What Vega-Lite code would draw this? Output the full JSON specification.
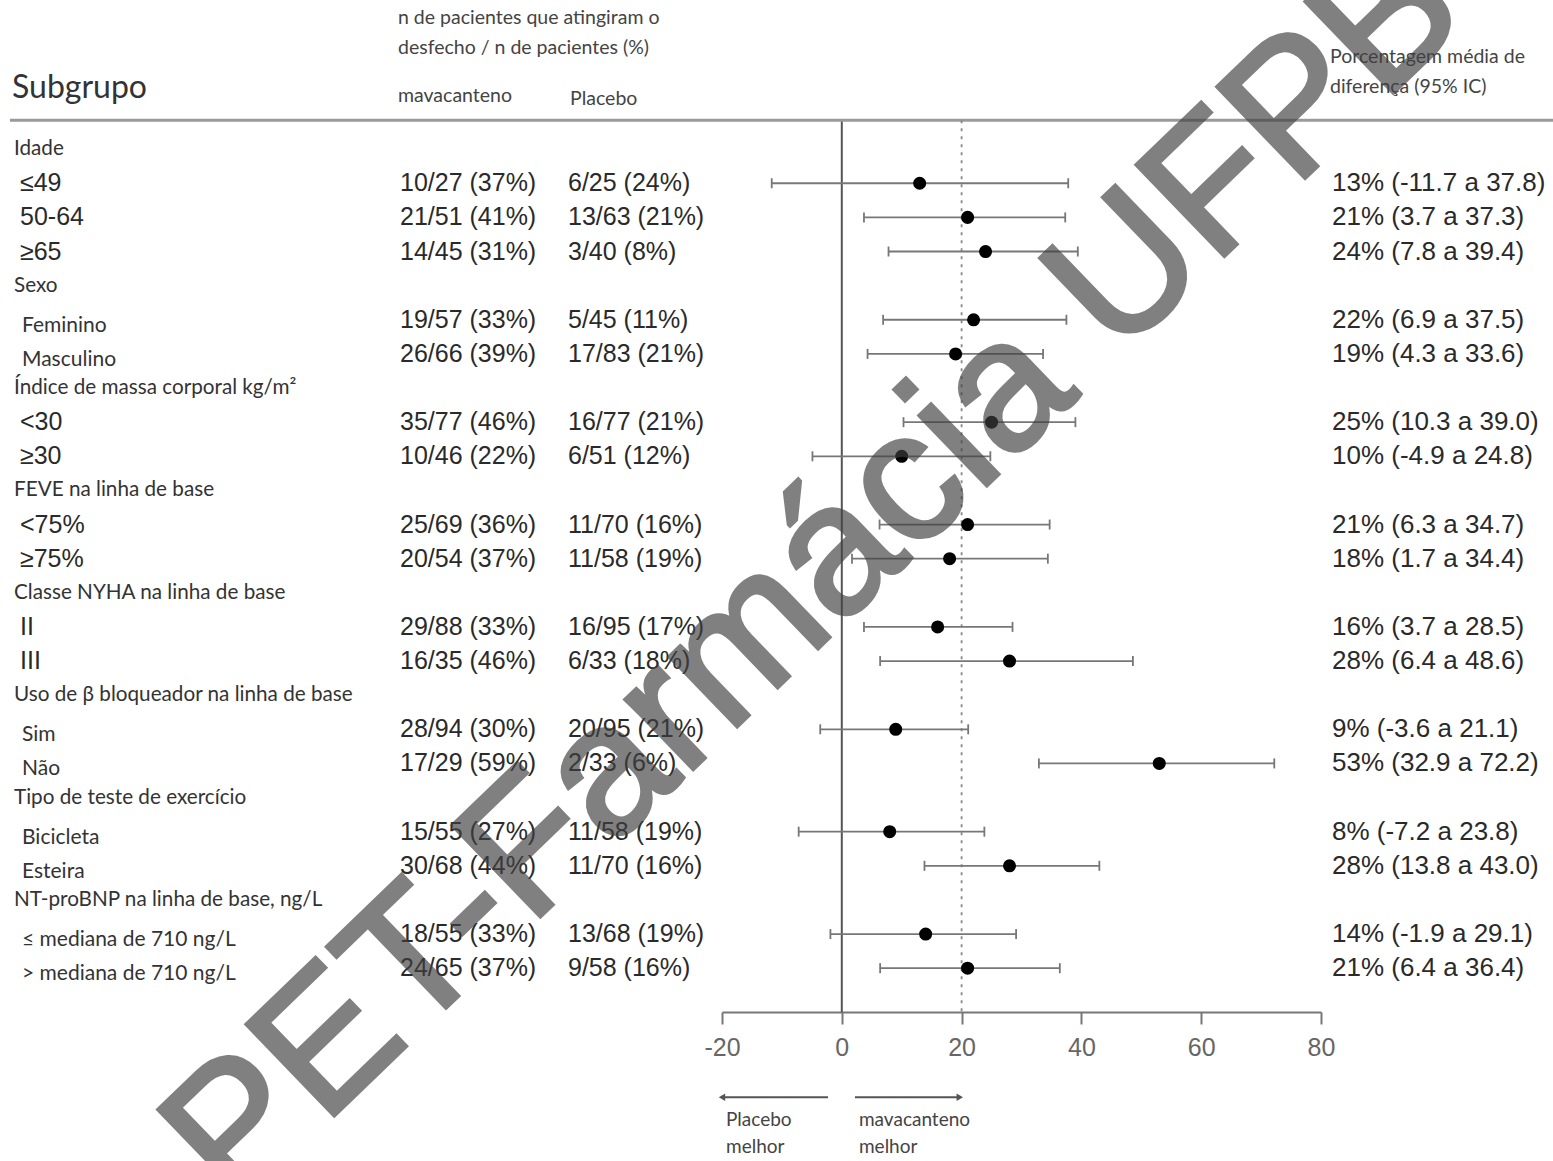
{
  "$schema": "https://vega.github.io/schema/vega-lite/v6.json",
  "padding": 0,
  "spacing": -1161,
  "bounds": "flush",
  "background": "white",
  "config": {"view": {"stroke": null}},
  "datasets": {
    "rows": [
      {"row": 0, "kind": "grupo", "label": "Idade"},
      {"row": 1, "kind": "sub", "label": "≤49", "mav": "10/27 (37%)", "pla": "6/25 (24%)", "est": 13, "lo": -11.7, "hi": 37.8, "ci": "13% (-11.7 a  37.8)"},
      {"row": 2, "kind": "sub", "label": "50-64", "mav": "21/51 (41%)", "pla": "13/63 (21%)", "est": 21, "lo": 3.7, "hi": 37.3, "ci": "21% (3.7 a 37.3)"},
      {"row": 3, "kind": "sub", "label": "≥65", "mav": "14/45 (31%)", "pla": "3/40 (8%)", "est": 24, "lo": 7.8, "hi": 39.4, "ci": "24% (7.8 a 39.4)"},
      {"row": 4, "kind": "grupo", "label": "Sexo"},
      {"row": 5, "kind": "subp", "label": "Feminino", "mav": "19/57 (33%)", "pla": "5/45 (11%)", "est": 22, "lo": 6.9, "hi": 37.5, "ci": "22% (6.9 a  37.5)"},
      {"row": 6, "kind": "subp", "label": "Masculino", "mav": "26/66 (39%)", "pla": "17/83 (21%)", "est": 19, "lo": 4.3, "hi": 33.6, "ci": "19% (4.3 a 33.6)"},
      {"row": 7, "kind": "grupo", "label": "Índice de massa corporal kg/m²"},
      {"row": 8, "kind": "sub", "label": "<30", "mav": "35/77 (46%)", "pla": "16/77 (21%)", "est": 25, "lo": 10.3, "hi": 39.0, "ci": "25% (10.3 a 39.0)"},
      {"row": 9, "kind": "sub", "label": "≥30", "mav": "10/46 (22%)", "pla": "6/51 (12%)", "est": 10, "lo": -4.9, "hi": 24.8, "ci": "10% (-4.9 a 24.8)"},
      {"row": 10, "kind": "grupo", "label": "FEVE na linha de base"},
      {"row": 11, "kind": "sub", "label": "<75%", "mav": "25/69 (36%)", "pla": "11/70 (16%)", "est": 21, "lo": 6.3, "hi": 34.7, "ci": "21% (6.3 a 34.7)"},
      {"row": 12, "kind": "sub", "label": "≥75%", "mav": "20/54 (37%)", "pla": "11/58 (19%)", "est": 18, "lo": 1.7, "hi": 34.4, "ci": "18% (1.7 a 34.4)"},
      {"row": 13, "kind": "grupo", "label": "Classe NYHA na linha de base"},
      {"row": 14, "kind": "sub", "label": "II", "mav": "29/88 (33%)", "pla": "16/95 (17%)", "est": 16, "lo": 3.7, "hi": 28.5, "ci": "16% (3.7 a 28.5)"},
      {"row": 15, "kind": "sub", "label": "III", "mav": "16/35 (46%)", "pla": "6/33 (18%)", "est": 28, "lo": 6.4, "hi": 48.6, "ci": "28% (6.4 a 48.6)"},
      {"row": 16, "kind": "grupo", "label": "Uso de β bloqueador na linha de base"},
      {"row": 17, "kind": "subp", "label": "Sim", "mav": "28/94 (30%)", "pla": "20/95 (21%)", "est": 9, "lo": -3.6, "hi": 21.1, "ci": "9% (-3.6 a 21.1)"},
      {"row": 18, "kind": "subp", "label": "Não", "mav": "17/29 (59%)", "pla": "2/33 (6%)", "est": 53, "lo": 32.9, "hi": 72.2, "ci": "53% (32.9 a 72.2)"},
      {"row": 19, "kind": "grupo", "label": "Tipo de teste de exercício"},
      {"row": 20, "kind": "subp", "label": "Bicicleta", "mav": "15/55 (27%)", "pla": "11/58 (19%)", "est": 8, "lo": -7.2, "hi": 23.8, "ci": "8% (-7.2 a 23.8)"},
      {"row": 21, "kind": "subp", "label": "Esteira", "mav": "30/68 (44%)", "pla": "11/70 (16%)", "est": 28, "lo": 13.8, "hi": 43.0, "ci": "28% (13.8 a 43.0)"},
      {"row": 22, "kind": "grupo", "label": "NT-proBNP na linha de base, ng/L"},
      {"row": 23, "kind": "subp", "label": "≤ mediana de 710 ng/L", "mav": "18/55 (33%)", "pla": "13/68 (19%)", "est": 14, "lo": -1.9, "hi": 29.1, "ci": "14% (-1.9 a 29.1)"},
      {"row": 24, "kind": "subp", "label": "> mediana de 710 ng/L", "mav": "24/65 (37%)", "pla": "9/58 (16%)", "est": 21, "lo": 6.4, "hi": 36.4, "ci": "21% (6.4 a 36.4)"}
    ],
    "arrows": [
      {"lado": "Placebo melhor", "texto": "Placebo\nmelhor", "esq": -20, "dir": -2.3, "ponta": -20},
      {"lado": "mavacanteno melhor", "texto": "mavacanteno\nmelhor", "esq": 2.2, "dir": 19.7, "ponta": 19.7}
    ],
    "one": [{"wm": "PET-Farmácia UFPB"}]
  },
  "vconcat": [
    {
      "spacing": 0,
      "bounds": "flush",
      "hconcat": [
        {
          "width": 398,
          "height": 1161,
          "layer": [
            {"data": {"name": "one"}, "mark": {"type": "rule", "color": "#9a9a9a", "strokeWidth": 3},
             "encoding": {"x": {"datum": 0.025, "type": "quantitative", "scale": {"domain": [0, 1]}, "axis": null}, "x2": {"datum": 1},
                          "y": {"datum": -0.85, "type": "quantitative", "scale": {"domain": [-4.37, 29.65], "reverse": true, "nice": false, "zero": false}, "axis": null}}},
            {"data": {"name": "one"}, "mark": {"type": "text", "text": "Subgrupo", "align": "left", "baseline": "middle", "dx": 12, "font": "Lato", "fontSize": 32, "color": "#333"},
             "encoding": {"x": {"datum": 0, "type": "quantitative"}, "y": {"datum": -1.79, "type": "quantitative"}}},
            {"data": {"name": "rows"}, "transform": [{"filter": "datum.kind == 'grupo'"}], "mark": {"type": "text", "align": "left", "baseline": "middle", "dx": 14, "font": "Lato", "fontSize": 20.7, "color": "#333"},
             "encoding": {"x": {"datum": 0, "type": "quantitative"}, "y": {"field": "row", "type": "quantitative"}, "text": {"field": "label"}}},
            {"data": {"name": "rows"}, "transform": [{"filter": "datum.kind == 'sub'"}], "mark": {"type": "text", "align": "left", "baseline": "middle", "dx": 20, "font": "Liberation Sans", "fontSize": 25, "color": "#2a2a2a"},
             "encoding": {"x": {"datum": 0, "type": "quantitative"}, "y": {"field": "row", "type": "quantitative"}, "text": {"field": "label"}}},
            {"data": {"name": "rows"}, "transform": [{"filter": "datum.kind == 'subp'"}], "mark": {"type": "text", "align": "left", "baseline": "middle", "dx": 22, "dy": 6, "font": "Lato", "fontSize": 21, "color": "#333"},
             "encoding": {"x": {"datum": 0, "type": "quantitative"}, "y": {"field": "row", "type": "quantitative"}, "text": {"field": "label"}}}
          ]
        },
        {
          "width": 168,
          "height": 1161,
          "layer": [
            {"data": {"name": "one"}, "mark": {"type": "rule", "color": "#9a9a9a", "strokeWidth": 3},
             "encoding": {"x": {"datum": 0, "type": "quantitative", "scale": {"domain": [0, 1]}, "axis": null}, "x2": {"datum": 1},
                          "y": {"datum": -0.85, "type": "quantitative", "scale": {"domain": [-4.37, 29.65], "reverse": true, "nice": false, "zero": false}, "axis": null}}},
            {"data": {"name": "one"}, "mark": {"type": "text", "text": ["n de pacientes que atingiram o", "desfecho / n de pacientes (%)"], "lineHeight": 30, "align": "left", "baseline": "middle", "dx": 0, "font": "Lato", "fontSize": 19.5, "color": "#444"},
             "encoding": {"x": {"datum": 0, "type": "quantitative"}, "y": {"datum": -3.84, "type": "quantitative"}}},
            {"data": {"name": "one"}, "mark": {"type": "text", "text": "mavacanteno", "align": "left", "baseline": "middle", "dx": 0, "font": "Lato", "fontSize": 19.5, "color": "#444"},
             "encoding": {"x": {"datum": 0, "type": "quantitative"}, "y": {"datum": -1.55, "type": "quantitative"}}},
            {"data": {"name": "rows"}, "transform": [{"filter": "isValid(datum.mav)"}], "mark": {"type": "text", "align": "left", "baseline": "middle", "dx": 2, "font": "Liberation Sans", "fontSize": 25, "color": "#2a2a2a"},
             "encoding": {"x": {"datum": 0, "type": "quantitative"}, "y": {"field": "row", "type": "quantitative"}, "text": {"field": "mav"}}}
          ]
        },
        {
          "width": 156,
          "height": 1161,
          "layer": [
            {"data": {"name": "one"}, "mark": {"type": "rule", "color": "#9a9a9a", "strokeWidth": 3},
             "encoding": {"x": {"datum": 0, "type": "quantitative", "scale": {"domain": [0, 1]}, "axis": null}, "x2": {"datum": 1},
                          "y": {"datum": -0.85, "type": "quantitative", "scale": {"domain": [-4.37, 29.65], "reverse": true, "nice": false, "zero": false}, "axis": null}}},
            {"data": {"name": "one"}, "mark": {"type": "text", "text": "Placebo", "align": "left", "baseline": "middle", "dx": 4, "font": "Lato", "fontSize": 19.5, "color": "#444"},
             "encoding": {"x": {"datum": 0, "type": "quantitative"}, "y": {"datum": -1.47, "type": "quantitative"}}},
            {"data": {"name": "rows"}, "transform": [{"filter": "isValid(datum.pla)"}], "mark": {"type": "text", "align": "left", "baseline": "middle", "dx": 2, "font": "Liberation Sans", "fontSize": 25, "color": "#2a2a2a"},
             "encoding": {"x": {"datum": 0, "type": "quantitative"}, "y": {"field": "row", "type": "quantitative"}, "text": {"field": "pla"}}}
          ]
        },
        {
          "width": 599,
          "height": 1161,
          "layer": [
            {"data": {"name": "one"}, "mark": {"type": "rule", "color": "#555", "strokeWidth": 2},
             "encoding": {
               "x": {"datum": 0, "type": "quantitative", "scale": {"domain": [-20, 80], "nice": false, "zero": false},
                     "axis": {"values": [-20, 0, 20, 40, 60, 80], "labelExpr": "'' + datum.value", "title": null, "grid": false, "offset": -149, "orient": "bottom", "domainColor": "#777", "domainWidth": 2, "tickColor": "#777", "tickWidth": 2, "tickSize": 12, "labelFont": "Liberation Sans", "labelFontSize": 25, "labelColor": "#666", "labelPadding": 11, "labelFlush": false}},
               "y": {"datum": -0.85, "type": "quantitative", "scale": {"domain": [-4.37, 29.65], "reverse": true, "nice": false, "zero": false}, "axis": null},
               "y2": {"datum": 25.29}}},
            {"data": {"name": "one"}, "mark": {"type": "rule", "color": "#9a9a9a", "strokeWidth": 3},
             "encoding": {"x": {"datum": -20, "type": "quantitative", "title": null}, "x2": {"datum": 80}, "y": {"datum": -0.85, "type": "quantitative"}}},
            {"data": {"name": "one"}, "mark": {"type": "rule", "color": "#888", "strokeWidth": 1.8, "strokeDash": [3, 5]},
             "encoding": {"x": {"datum": 20, "type": "quantitative", "title": null}, "y": {"datum": -0.85, "type": "quantitative"}, "y2": {"datum": 25.29}}},
            {"data": {"name": "rows"}, "transform": [{"filter": "isValid(datum.est)"}], "mark": {"type": "rule", "color": "#777", "strokeWidth": 1.8},
             "encoding": {"x": {"field": "lo", "type": "quantitative", "title": null}, "x2": {"field": "hi"}, "y": {"field": "row", "type": "quantitative"}}},
            {"data": {"name": "rows"}, "transform": [{"filter": "isValid(datum.est)"}], "mark": {"type": "point", "shape": "M0,-1L0,1", "filled": false, "stroke": "#777", "strokeWidth": 1.8, "size": 100, "opacity": 1},
             "encoding": {"x": {"field": "lo", "type": "quantitative", "title": null}, "y": {"field": "row", "type": "quantitative"}}},
            {"data": {"name": "rows"}, "transform": [{"filter": "isValid(datum.est)"}], "mark": {"type": "point", "shape": "M0,-1L0,1", "filled": false, "stroke": "#777", "strokeWidth": 1.8, "size": 100, "opacity": 1},
             "encoding": {"x": {"field": "hi", "type": "quantitative", "title": null}, "y": {"field": "row", "type": "quantitative"}}},
            {"data": {"name": "rows"}, "transform": [{"filter": "isValid(datum.est)"}], "mark": {"type": "point", "shape": "circle", "filled": true, "color": "#000", "size": 170, "opacity": 1},
             "encoding": {"x": {"field": "est", "type": "quantitative", "title": null}, "y": {"field": "row", "type": "quantitative"}}},
            {"data": {"name": "arrows"}, "mark": {"type": "rule", "color": "#555", "strokeWidth": 2},
             "encoding": {"x": {"field": "esq", "type": "quantitative", "title": null}, "x2": {"field": "dir"}, "y": {"datum": 27.78, "type": "quantitative"}}},
            {"data": {"name": "arrows"}, "mark": {"type": "point", "filled": true, "color": "#555", "size": 55, "opacity": 1},
             "encoding": {"x": {"field": "ponta", "type": "quantitative", "title": null}, "y": {"datum": 27.78, "type": "quantitative"},
                          "shape": {"field": "lado", "type": "nominal", "scale": {"domain": ["Placebo melhor", "mavacanteno melhor"], "range": ["triangle-left", "triangle-right"]}, "legend": null}}},
            {"data": {"name": "arrows"}, "mark": {"type": "text", "align": "left", "baseline": "middle", "lineBreak": "\n", "lineHeight": 27, "dx": 4, "font": "Lato", "fontSize": 19, "color": "#444"},
             "encoding": {"x": {"field": "esq", "type": "quantitative", "title": null}, "y": {"datum": 28.44, "type": "quantitative"}, "text": {"field": "texto"}}}
          ]
        },
        {
          "width": 232,
          "height": 1161,
          "layer": [
            {"data": {"name": "one"}, "mark": {"type": "rule", "color": "#9a9a9a", "strokeWidth": 3},
             "encoding": {"x": {"datum": 0, "type": "quantitative", "scale": {"domain": [0, 1]}, "axis": null}, "x2": {"datum": 1},
                          "y": {"datum": -0.85, "type": "quantitative", "scale": {"domain": [-4.37, 29.65], "reverse": true, "nice": false, "zero": false}, "axis": null}}},
            {"data": {"name": "one"}, "mark": {"type": "text", "text": ["Porcentagem média de", "diferença (95% IC)"], "lineHeight": 30, "align": "left", "baseline": "middle", "dx": 9, "font": "Lato", "fontSize": 19.5, "color": "#444"},
             "encoding": {"x": {"datum": 0, "type": "quantitative"}, "y": {"datum": -2.70, "type": "quantitative"}}},
            {"data": {"name": "rows"}, "transform": [{"filter": "isValid(datum.ci)"}], "mark": {"type": "text", "align": "left", "baseline": "middle", "dx": 11, "font": "Liberation Sans", "fontSize": 26, "color": "#2a2a2a"},
             "encoding": {"x": {"datum": 0, "type": "quantitative"}, "y": {"field": "row", "type": "quantitative"}, "text": {"field": "ci"}}}
          ]
        }
      ]
    },
    {
      "width": 1553,
      "height": 1161,
      "data": {"name": "one"},
      "mark": {"type": "text", "clip": true, "align": "center", "baseline": "middle", "angle": -44, "font": "Liberation Sans", "fontWeight": "normal", "fontSize": 184, "color": "#404040", "stroke": "#404040", "strokeWidth": 4, "opacity": 0.66},
      "encoding": {
        "x": {"datum": -4.5, "type": "quantitative", "scale": {"domain": [-140.53, 118.73], "nice": false, "zero": false}, "axis": null},
        "y": {"datum": 12.48, "type": "quantitative", "scale": {"domain": [-4.37, 29.65], "reverse": true, "nice": false, "zero": false}, "axis": null},
        "text": {"field": "wm"}
      }
    }
  ]
}
